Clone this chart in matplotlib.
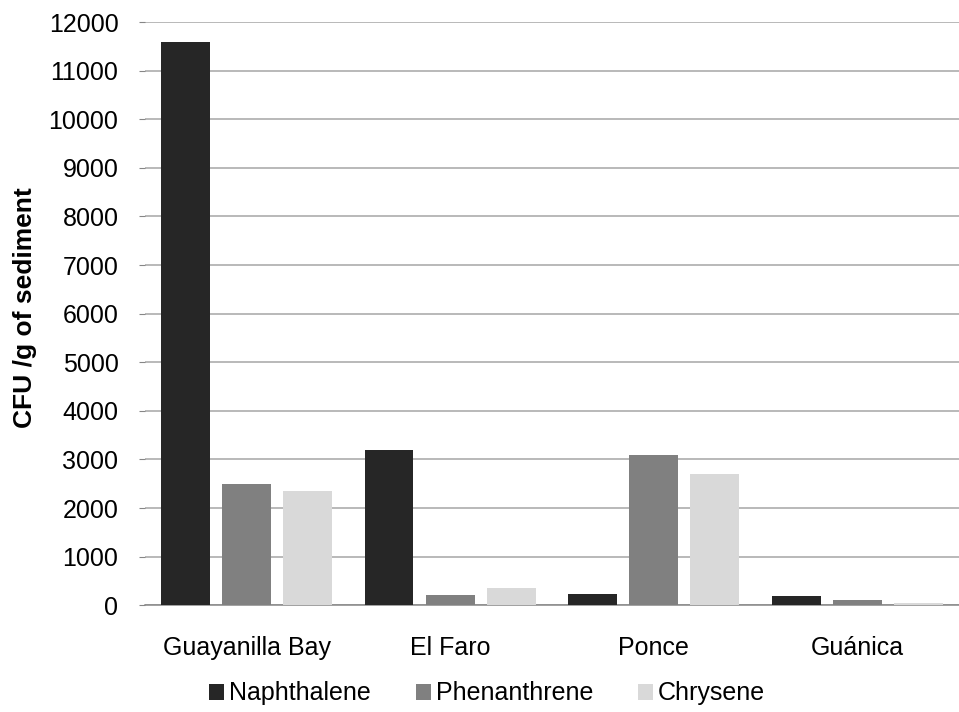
import matplotlib.pyplot as plt
import numpy as np

plt.rcParams['font.family'] = ['Liberation Sans', 'DejaVu Sans']

sites = ['Guayanilla Bay', 'El Faro', 'Ponce', 'Guánica']
naphthalene = [11600, 3200, 230, 180]
phenanthrene = [2500, 200, 3100, 100]
chrysene = [2350, 350, 2700, 50]

series = [('Naphthalene', naphthalene, '#262626'),
          ('Phenanthrene', phenanthrene, '#808080'),
          ('Chrysene', chrysene, '#d9d9d9')]

fs = 18

fig = plt.figure(figsize=(9.59, 7.12), dpi=100)
ax = fig.add_axes([0.151, 0.150, 0.849, 0.819])

x = np.arange(len(sites))
width = 0.24
offsets = [-0.30, 0.0, 0.30]
for (name, vals, col), off in zip(series, offsets):
    ax.bar(x + off, vals, width, color=col, label=name, zorder=3)

ax.set_xlim(-0.5, len(sites) - 0.5)
ax.set_ylim(0, 12000)
ax.set_yticks(np.arange(0, 12001, 1000))
ax.set_xticks(x)
ax.set_xticklabels(sites)
ax.yaxis.grid(True, color='#a6a6a6', linewidth=1.1, zorder=0)

for s in ['top', 'right', 'left']:
    ax.spines[s].set_visible(False)
ax.spines['bottom'].set_color('#868686')
ax.spines['bottom'].set_linewidth(1.1)

ax.tick_params(axis='y', length=4, color='#868686', labelsize=fs, pad=15)
ax.tick_params(axis='x', length=0, labelsize=fs, pad=22)

ax.set_ylabel('CFU /g of sediment', fontsize=19, fontweight='bold')
ax.yaxis.set_label_coords(-0.132, 0.51)

fig.legend(loc='center', bbox_to_anchor=(0.508, 0.026), ncol=3, frameon=False,
           fontsize=fs, handlelength=0.6, handleheight=0.6, handletextpad=0.2,
           columnspacing=1.8)

fig.savefig('out.png', dpi=100)
